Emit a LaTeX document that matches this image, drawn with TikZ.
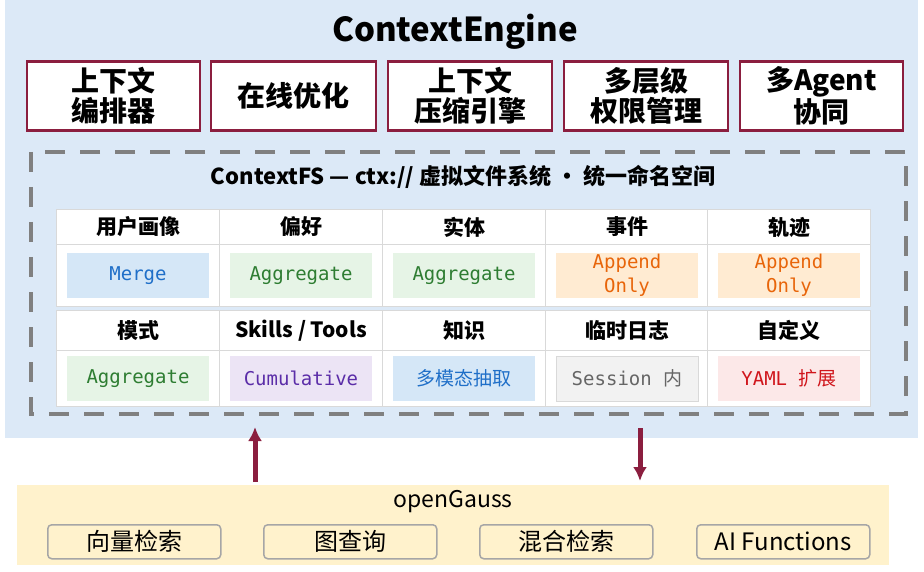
\documentclass[tikz,border=0pt]{standalone}
\usepackage{fontspec}
\setmainfont{Noto Sans CJK SC}
\newfontfamily\cjk{Noto Sans CJK SC}
\newfontfamily\monof{DejaVu Sans Mono}
\usetikzlibrary{arrows.meta}
\begin{document}
\begin{tikzpicture}[x=1pt,y=-1pt,
  top/.style={draw=dred,line width=2.5pt,fill=white,align=center,font=\fontsize{28}{30}\selectfont\bfseries,inner sep=0pt},
  hd/.style={draw=gray!30,fill=white,line width=1pt,font=\fontsize{21}{23}\selectfont\bfseries,inner sep=0pt},
  cell/.style={draw=gray!30,fill=white,line width=1pt,inner sep=0pt},
  chip/.style={inner sep=0pt,align=center,font=\monof\fontsize{19}{24}\selectfont},
  btn/.style={draw=gray!70,line width=1.5pt,rounded corners=4pt,fill=yelbg,font=\fontsize{24}{26}\selectfont,inner sep=0pt},
  arr/.style={draw=dred,line width=5pt,-{Latex[length=14pt,width=14pt]}}]
\definecolor{dred}{HTML}{8B1E3F}
\definecolor{bluebg}{HTML}{DCE9F7}
\definecolor{yelbg}{HTML}{FFF2CC}
\definecolor{cb}{HTML}{D5E7F7}\definecolor{tb}{HTML}{1F6FC8}
\definecolor{cg}{HTML}{E6F4E6}\definecolor{tg}{HTML}{2E7D32}
\definecolor{co}{HTML}{FFEBD2}\definecolor{to}{HTML}{E8650A}
\definecolor{cv}{HTML}{ECE4F5}\definecolor{tv}{HTML}{5B2DA8}
\definecolor{cr}{HTML}{FCE8E8}\definecolor{tr}{HTML}{D0161C}
\useasboundingbox (0,0) rectangle (924,572);
\fill[bluebg] (5,0) rectangle (918,438);
\node[font=\fontsize{33}{35}\selectfont\bfseries] (title) at (455,32) {ContextEngine};
\foreach \a/\b/\t [count=\i] in {27/200/{上下文\\编排器},211/376/{在线优化},388/552/{上下文\\压缩引擎},564/728/{多层级\\权限管理},740/903/{多Agent\\协同}}
  \node[top,minimum width=\b-\a,minimum height=69] (t\i) at ({(\a+\b)/2},96) {\t};
\draw[gray,line width=4pt,dash pattern=on 20pt off 15pt] (31,152) rectangle (906,414);
\node[font=\fontsize{22}{24}\selectfont\bfseries] (sub) at (463,177) {ContextFS — ctx:// 虚拟文件系统 · 统一命名空间};
\foreach \x/\h [count=\i] in {56/用户画像,219/偏好,382/实体,545/事件,707/轨迹}{
  \node[hd,minimum width=163,minimum height=35,anchor=north west] (h\i) at (\x,209) {\h};
  \node[cell,minimum width=163,minimum height=62,anchor=north west] (c\i) at (\x,244) {};}
\foreach \x/\h [count=\i] in {56/模式,219/{Skills / Tools},382/知识,545/临时日志,707/自定义}{
  \node[hd,minimum width=163,minimum height=40,anchor=north west] (g\i) at (\x,310) {\h};
  \node[cell,minimum width=163,minimum height=56,anchor=north west] (d\i) at (\x,350) {};}
\def\chipA#1#2#3#4#5{\node[chip,fill=#3,text=#4,minimum width=142,minimum height=45] (#1) at (#2) {#5};}
\chipA{m1}{c1}{cb}{tb}{Merge}
\chipA{m2}{c2}{cg}{tg}{Aggregate}
\chipA{m3}{c3}{cg}{tg}{Aggregate}
\chipA{m4}{c4}{co}{to}{Append\\Only}
\chipA{m5}{c5}{co}{to}{Append\\Only}
\chipA{n1}{d1}{cg}{tg}{Aggregate}
\chipA{n2}{d2}{cv}{tv}{Cumulative}
\chipA{n3}{d3}{cb}{tb}{\cjk 多模态抽取}
\node[chip,fill=gray!10,draw=gray!30,text=gray!80!black,minimum width=142,minimum height=45] (n4) at (d4) {Session {\cjk 内}};
\chipA{n5}{d5}{cr}{tr}{YAML {\cjk 扩展}}
\fill[yelbg] (17,485) rectangle (889,565);
\node[font=\fontsize{23}{25}\selectfont] (og) at (453,502) {openGauss};
\foreach \a/\t [count=\i] in {47/向量检索,263/图查询,479/混合检索,696/AI Functions}
  \node[btn,minimum width=173,minimum height=34,anchor=north west] (b\i) at (\a,524) {\t};
\coordinate (u1) at (255,482); \coordinate (u2) at (255,427);
\coordinate (v1) at (640,428); \coordinate (v2) at (640,481);
\draw[arr] (u1) -- (u2);
\draw[arr] (v1) -- (v2);
\end{tikzpicture}
\end{document}
